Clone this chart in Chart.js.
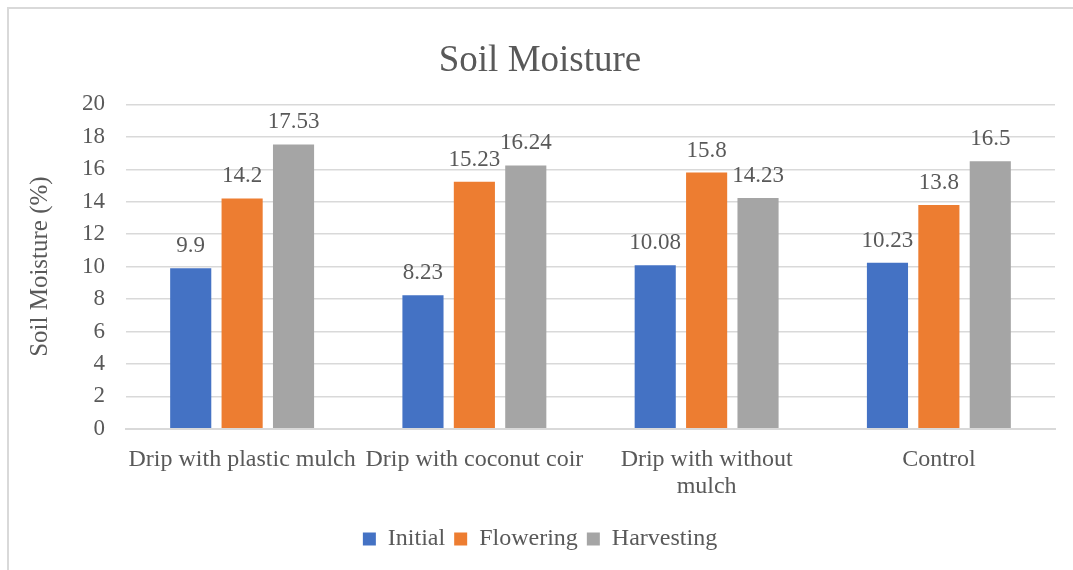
<!DOCTYPE html>
<html>
<head>
<meta charset="utf-8">
<script src="https://cdn.jsdelivr.net/npm/chart.js@4/dist/chart.umd.min.js"></script>
<style>
  html, body { margin: 0; padding: 0; background: #fff; }
  #wrap {
    position: absolute; left: 7px; top: 7px;
    width: 1066px; height: 563px;
    border-left: 2px solid #d9d9d9; border-top: 2px solid #d9d9d9;
  }
</style>
</head>
<body>
<div id="wrap"><canvas id="chart"></canvas></div>
<script>
// categories + series
var categories = ['Drip with plastic mulch', 'Drip with coconut coir', ['Drip with without', 'mulch'], 'Control'];
var initial = [9.9, 8.23, 10.08, 10.23];
var flowering = [14.2, 15.23, 15.8, 13.8];
var harvesting = [17.53, 16.24, 14.23, 16.5];
var yTicks = [0, 2, 4, 6, 8, 10, 12, 14, 16, 18, 20];

var textColor = '#595959';
var serif = "'Liberation Serif', 'Times New Roman', serif";

// labels on top of each bar
var valueLabels = {
  id: 'valueLabels',
  afterDatasetsDraw: function (chart) {
    var ctx = chart.ctx;
    ctx.save();
    ctx.font = '23px ' + serif;
    ctx.fillStyle = textColor;
    ctx.textAlign = 'center';
    ctx.textBaseline = 'alphabetic';
    chart.data.datasets.forEach(function (ds, i) {
      var meta = chart.getDatasetMeta(i);
      meta.data.forEach(function (bar, j) {
        ctx.fillText(String(ds.data[j]), bar.x, bar.y - 16);
      });
    });
    ctx.restore();
  }
};

new Chart(document.getElementById('chart'), {
  type: 'bar',
  data: {
    labels: categories,
    datasets: [
      { label: 'Initial', data: initial, backgroundColor: '#4472c4' },
      { label: 'Flowering', data: flowering, backgroundColor: '#ed7d31' },
      { label: 'Harvesting', data: harvesting, backgroundColor: '#a5a5a5' }
    ]
  },
  options: {
    responsive: true,
    maintainAspectRatio: false,
    animation: false,
    categoryPercentage: 0.664,
    barPercentage: 0.8,
    layout: { padding: { left: 16, right: 20, top: 12, bottom: 11 } },
    plugins: {
      title: {
        display: true,
        text: 'Soil Moisture',
        color: textColor,
        font: { family: serif, size: 37, weight: 'normal' },
        padding: { top: 18, bottom: 21 }
      },
      legend: {
        position: 'bottom',
        labels: {
          color: textColor,
          font: { family: serif, size: 24 },
          boxWidth: 13, boxHeight: 13,
          padding: 9
        }
      },
      tooltip: { enabled: false }
    },
    scales: {
      x: {
        grid: { display: false, drawTicks: false },
        border: { color: '#d9d9d9', width: 2 },
        ticks: {
          color: textColor,
          font: { family: serif, size: 24, lineHeight: 1.15 },
          padding: 17,
          maxRotation: 0,
          autoSkip: false
        }
      },
      y: {
        min: 0, max: 20,
        afterBuildTicks: function (axis) {
          axis.ticks = yTicks.map(function (v) { return { value: v }; });
        },
        grid: { color: '#d9d9d9', lineWidth: 1.5, drawTicks: false },
        border: { display: false },
        ticks: {
          color: textColor,
          font: { family: serif, size: 23 },
          padding: 21
        },
        title: {
          display: true,
          text: 'Soil Moisture (%)',
          color: textColor,
          font: { family: serif, size: 25, weight: 'normal' },
          padding: { top: 0, bottom: 6 }
        }
      }
    }
  },
  plugins: [valueLabels]
});
</script>
</body>
</html>
